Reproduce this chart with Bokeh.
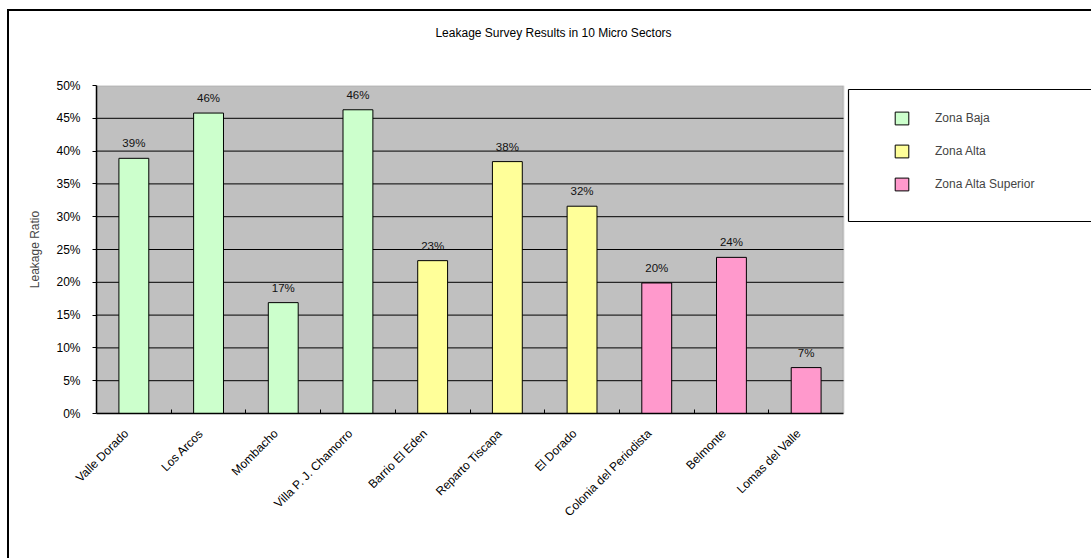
from bokeh.plotting import figure
from bokeh.models import (ColumnDataSource, Range1d, FixedTicker, Legend, LegendItem,
                          NumeralTickFormatter, BoxAnnotation)
from bokeh.layouts import column
from bokeh.core.properties import value
from bokeh.embed import file_html
from bokeh.resources import INLINE

sectors = ["Valle Dorado", "Los Arcos", "Mombacho", "Villa P. J. Chamorro",
           "Barrio El Eden", "Reparto Tiscapa", "El Dorado",
           "Colonia del Periodista", "Belmonte", "Lomas del Valle"]
leakage = [0.389, 0.458, 0.169, 0.463, 0.233, 0.384, 0.316, 0.199, 0.238, 0.070]
zones = ["Zona Baja"] * 4 + ["Zona Alta"] * 3 + ["Zona Alta Superior"] * 3
zone_names = ["Zona Baja", "Zona Alta", "Zona Alta Superior"]
zone_colors = {"Zona Baja": "#CCFFCC", "Zona Alta": "#FFFF99",
               "Zona Alta Superior": "#FF99CC"}
y_ticks = [0.0, 0.05, 0.10, 0.15, 0.20, 0.25, 0.30, 0.35, 0.40, 0.45, 0.50]
title_text = "Leakage Survey Results in 10 Micro Sectors"
y_label = "Leakage Ratio"

FONT = "Liberation Sans"
FS = "12px"

n = len(sectors)
xs = list(range(n))
src = ColumnDataSource(dict(
    x=xs, y=leakage, zone=zones,
    color=[zone_colors[z] for z in zones],
    label=[f"{round(v * 100)}%" for v in leakage],
))

# layout geometry (pixels)
FIG_W = 1082
TITLE_H = 66
MAIN_H = 547 - TITLE_H
LEFT, TOP, BOTTOM = 87, 8, 145
frame_w = FIG_W - LEFT
px_per_cat = 74.7
x_end = -0.5 + frame_w / px_per_cat

# ---- title strip (its frame is aligned with the chart frame by the column) ----
t = figure(width=FIG_W, height=TITLE_H, output_backend="svg", toolbar_location=None,
           x_range=Range1d(LEFT, FIG_W), y_range=Range1d(0, TITLE_H),
           min_border=0, x_axis_location=None, y_axis_location=None)
t.outline_line_color = None
t.xgrid.grid_line_color = None
t.ygrid.grid_line_color = None
t.text(x=[544], y=[TITLE_H - 21], text=[title_text], text_align="center",
       text_baseline="middle", text_font=value(FONT), text_font_size=FS,
       text_color="black")

# ---- main chart ----
p = figure(width=FIG_W, height=MAIN_H, output_backend="svg", toolbar_location=None,
           x_range=Range1d(-0.5, x_end), y_range=Range1d(0, max(y_ticks)),
           min_border_left=LEFT, min_border_right=0, min_border_top=TOP,
           min_border_bottom=BOTTOM)
p.background_fill_color = "white"
p.border_fill_color = "white"
p.outline_line_color = None
p.xgrid.grid_line_color = None
p.ygrid.grid_line_color = None

# gray plot area
p.add_layout(BoxAnnotation(left=-0.5, right=n - 0.5, bottom=0, top=max(y_ticks),
                           fill_color="#C0C0C0", fill_alpha=1,
                           line_color="#8C8C8C", line_width=2, level="underlay"))

# gridlines
gl = [v for v in y_ticks if 0 < v < max(y_ticks)]
p.segment(x0=[-0.5] * len(gl), x1=[n - 0.5] * len(gl), y0=gl, y1=gl,
          line_color="black", line_width=1)

bars = p.vbar(x="x", top="y", width=0.4, source=src, fill_color="color",
              line_color="black", line_width=1)

p.text(x="x", y="y", text="label", source=src, text_align="center",
       text_baseline="bottom", y_offset=-9, text_font=value(FONT),
       text_font_size="11.5px", text_color="#111111")

# y axis
ya = p.yaxis[0]
ya.ticker = FixedTicker(ticks=y_ticks)
ya.formatter = NumeralTickFormatter(format="0%")
ya.axis_line_color = "black"
ya.axis_line_width = 1.5
ya.major_tick_out = 4
ya.major_tick_in = 0
ya.minor_tick_line_color = None
ya.major_label_standoff = 12
ya.major_label_text_font = FONT
ya.major_label_text_font_size = FS
ya.major_label_text_color = "black"
ya.axis_label = y_label
ya.axis_label_text_font = FONT
ya.axis_label_text_font_size = FS
ya.axis_label_text_font_style = "normal"
ya.axis_label_standoff = 11

# x axis (category names as tick labels, boundary ticks as minor ticks)
label_pos = [i - 0.1 for i in xs]
xa = p.xaxis[0]
xa.bounds = (-0.5, n - 0.5)
xa.ticker = FixedTicker(ticks=label_pos, minor_ticks=[i + 0.5 for i in xs[:-1]])
xa.major_label_overrides = {pos: name for pos, name in zip(label_pos, sectors)}
xa.axis_line_color = "black"
xa.axis_line_width = 1.5
xa.major_tick_line_color = None
xa.minor_tick_line_color = "black"
xa.minor_tick_in = 4
xa.minor_tick_out = 0
xa.major_label_orientation = 0.785398
xa.major_label_standoff = 12
xa.major_label_text_font = FONT
xa.major_label_text_font_size = FS
xa.major_label_text_color = "black"

# legend box (left, top and bottom edges; it runs past the right edge)
bx0, bx1, by0, by1 = 9.567, 40, 0.2927, 0.4939
p.segment(x0=[bx0, bx0, bx0], x1=[bx1, bx1, bx0], y0=[by1, by0, by0],
          y1=[by1, by0, by1], line_color="black", line_width=1.2)

# legend
first_idx = {z: zones.index(z) for z in zone_names}
lg = Legend(items=[LegendItem(label=z, renderers=[bars], index=first_idx[z])
                   for z in zone_names])
lg.location = (797, 221)
lg.padding = 0
lg.margin = 0
lg.border_line_alpha = 0
lg.background_fill_alpha = 0
lg.glyph_width = 17
lg.glyph_height = 16
lg.label_height = 16
lg.spacing = 17
lg.label_standoff = 25
lg.label_text_font = FONT
lg.label_text_font_size = FS
p.add_layout(lg)

layout = column(t, p, spacing=0,
                styles={"border-left": "2px solid black",
                        "border-top": "2px solid black",
                        "margin-left": "7px", "margin-top": "9px"})

open("out.html", "w").write(file_html(layout, INLINE))
